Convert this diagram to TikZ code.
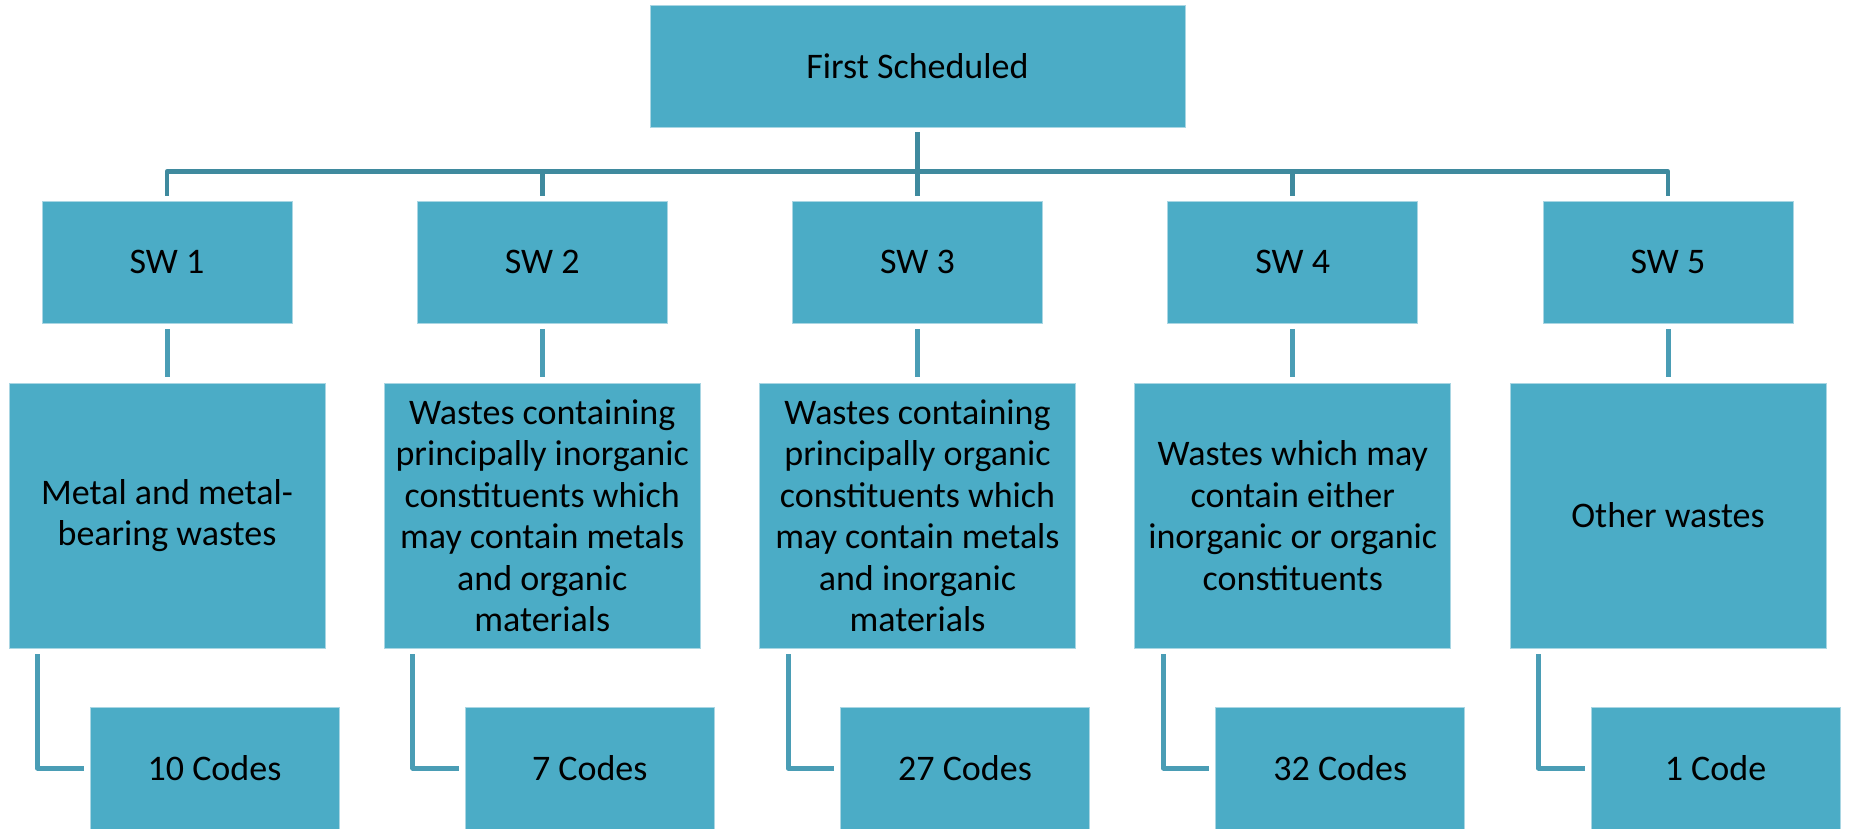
\documentclass[tikz,border=0pt]{standalone}
\usepackage{fontspec}
\setmainfont{Carlito}
\definecolor{boxc}{HTML}{4BACC6}
\definecolor{boxedge}{HTML}{A9D6E3}
\definecolor{busc}{HTML}{3F8A9E}
\definecolor{linkc}{HTML}{4A9DB5}
\tikzset{
  box/.style={rectangle, fill=boxc, draw=boxedge, line width=0.8pt, inner sep=0pt,
    align=center, font=\fontsize{36}{41.5}\selectfont, text=black},
  topbox/.style={box, minimum width=535pt, minimum height=122pt},
  swbox/.style={box, minimum width=250pt, minimum height=122pt},
  bigbox/.style={box, minimum width=316pt, minimum height=265pt},
  codebox/.style={box, minimum width=249pt, minimum height=122pt},
  bus/.style={draw=busc, line width=4.6pt, line join=round},
  link/.style={draw=linkc, line width=5pt, line join=round},
}
\begin{document}
\begin{tikzpicture}[x=1pt, y=-1pt]
\useasboundingbox (0,0) rectangle (1851,829);

\node[topbox] (top) at (917.5,66) {First Scheduled};

\foreach \i/\c in {1/167, 2/542.25, 3/917.5, 4/1292.75, 5/1668} {
  \node[swbox] (sw\i) at (\c,262) {SW \i};
}

\node[bigbox] (big1) at (167,515.5) {Metal and metal-\\bearing wastes};
\node[bigbox] (big2) at (542.25,515.5) {Wastes containing\\principally inorganic\\constituents which\\may contain metals\\and organic\\materials};
\node[bigbox] (big3) at (917.5,515.5) {Wastes containing\\principally organic\\constituents which\\may contain metals\\and inorganic\\materials};
\node[bigbox] (big4) at (1292.75,515.5) {Wastes which may\\contain either\\inorganic or organic\\constituents};
\node[bigbox] (big5) at (1668,515.5) {Other wastes};

\node[codebox] (code1) at (214.5,768) {10 Codes};
\node[codebox] (code2) at (589.75,768) {7 Codes};
\node[codebox] (code3) at (965,768) {27 Codes};
\node[codebox] (code4) at (1340.25,768) {32 Codes};
\node[codebox] (code5) at (1715.5,768) {1 Code};

% bus
\draw[bus] ([yshift=5pt]sw1.north) |- ([yshift=29pt]sw5.north) -- ([yshift=5pt]sw5.north);
\draw[bus] ([yshift=-5pt]top.south) -- ([yshift=5pt]sw3.north);
\foreach \i in {2,4} {
  \draw[bus] ([yshift=29pt]sw\i.north) -- ([yshift=5pt]sw\i.north);
}

% SW to description
\foreach \i in {1,...,5} {
  \draw[link] ([yshift=-6pt]sw\i.south) -- ([yshift=6pt]big\i.north);
  \draw[link] ([xshift=29pt,yshift=-6pt]big\i.south west) |- ([xshift=-6pt]code\i.west);
}
\end{tikzpicture}
\end{document}
